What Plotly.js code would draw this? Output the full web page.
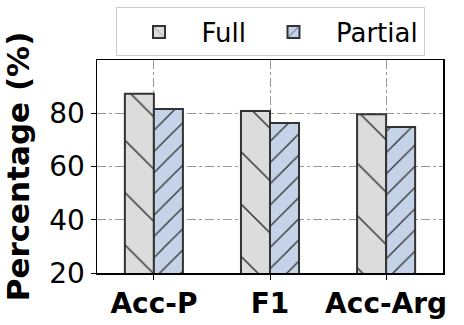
<!DOCTYPE html>
<html><head><meta charset="utf-8">
<script src="https://cdn.plot.ly/plotly-3.0.1.min.js"></script>
<style>body{margin:0;padding:0;background:#fff}#c{width:464px;height:325px}</style>
</head><body><div id="c"></div>
<script>
const categories = ['Acc-P', 'F1', 'Acc-Arg'];
const fullValues = [87.3, 80.8, 79.6];
const partialValues = [81.6, 76.3, 74.8];
const seriesNames = ['Full', 'Partial'];

const traces = [
  {type:'bar', x:categories, y:fullValues, name:seriesNames[0],
   marker:{color:'#dcdcdc', line:{color:'#333', width:2},
     pattern:{shape:'\\', fillmode:'replace', bgcolor:'#dcdcdc', fgcolor:'#333', size:37, solidity:0.04}}},
  {type:'bar', x:categories, y:partialValues, name:seriesNames[1],
   marker:{color:'#c5d3e8', line:{color:'#333', width:2},
     pattern:{shape:'/', fillmode:'replace', bgcolor:'#c5d3e8', fgcolor:'#333', size:15, solidity:0.09}}}
];

const layout = {
  width:464, height:325,
  margin:{l:97, r:21, t:60, b:52, autoexpand:false},
  paper_bgcolor:'#fff', plot_bgcolor:'#fff',
  barmode:'group', bargap:0.5, bargroupgap:0,
  font:{family:'DejaVu Sans', color:'#000'},
  xaxis:{range:[-0.49, 2.49], showline:true, linecolor:'#000', linewidth:1.5, mirror:true,
    ticks:'outside', ticklen:5, tickcolor:'#000', automargin:false,
    tickfont:{size:28, family:'DejaVu Sans', weight:'bold'},
    showgrid:true, gridcolor:'#999', griddash:'dashdot', gridwidth:1},
  yaxis:{range:[20,100], tickvals:[20,40,60,80], showline:true, linecolor:'#000', linewidth:1.5, mirror:true,
    ticks:'outside', ticklen:5, tickcolor:'#000', automargin:false,
    tickfont:{size:28, family:'DejaVu Sans'},
    showgrid:true, gridcolor:'#999', griddash:'dashdot', gridwidth:1, zeroline:false,
    title:{text:'Percentage (%)', font:{size:31, family:'DejaVu Sans', weight:'bold'}, standoff:10}},
  legend:{orientation:'h', x:0.5, xanchor:'center', y:1.1315, yanchor:'middle', itemwidth:75,
    bordercolor:'#ccc', borderwidth:1, bgcolor:'#fff', font:{size:26, family:'DejaVu Sans'}},
  showlegend:true
};
Plotly.newPlot('c', traces, layout, {displayModeBar:false, staticPlot:true});
</script></body></html>
